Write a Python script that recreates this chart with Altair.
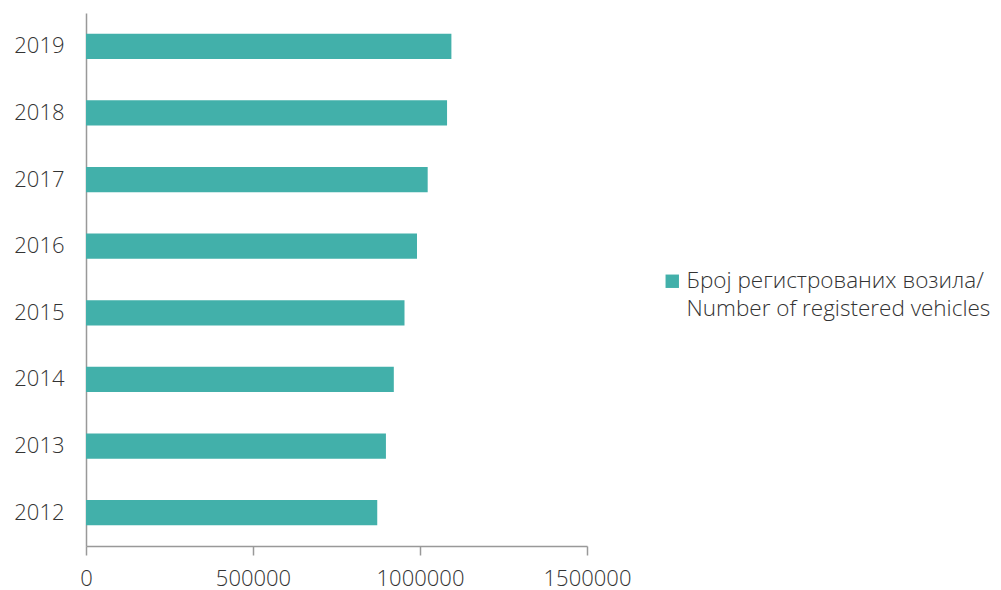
import altair as alt
import pandas as pd

years = ["2012", "2013", "2014", "2015", "2016", "2017", "2018", "2019"]
vehicles = [872000, 898000, 921600, 953600, 991000, 1023000, 1081000, 1094000]
series = "Број регистрованих возила/|Number of registered vehicles"
x_ticks = [0, 500000, 1000000, 1500000]

df = pd.DataFrame({"year": years, "value": vehicles, "series": [series] * len(years)})

FONT = "Open Sans"

chart = alt.Chart(df).mark_bar(color="#42B0AA").encode(
    y=alt.Y("year:N", sort=years[::-1], title=None,
            scale=alt.Scale(paddingInner=0.62, paddingOuter=0.31),
            axis=alt.Axis(ticks=False, domainColor="#999999", domainWidth=1.5,
                          labelPadding=22, labelFontSize=22, labelColor="#333333",
                          labelFont=FONT, labelFontWeight=300)),
    x=alt.X("value:Q", title=None,
            scale=alt.Scale(domain=[0, 1500000], nice=False),
            axis=alt.Axis(values=x_ticks, format="d", grid=False,
                          domainColor="#999999", domainWidth=1.5,
                          tickColor="#999999", tickWidth=1.5, tickSize=9,
                          labelPadding=13, labelFontSize=22, labelColor="#333333",
                          labelFont=FONT, labelFontWeight=300, labelFlush=False)),
    color=alt.Color("series:N", scale=alt.Scale(range=["#42B0AA"]),
                    legend=alt.Legend(title=None, orient="none", legendX=575, legendY=257,
                                      symbolType="square", symbolSize=180,
                                      labelFontSize=22.5, labelFont=FONT, labelFontWeight=300,
                                      labelColor="#333333", labelLimit=400,
                                      labelExpr="split(datum.label, '|')",
                                      labelOffset=3)),
).properties(
    width=501, height=533,
    autosize=alt.AutoSizeParams(type="none"),
    padding={"left": 78, "top": 5, "right": 405, "bottom": 44},
).configure(
    view=alt.ViewConfig(stroke=None),
    style={"guide-label": {"lineHeight": 28}},
)

chart.save("out.html", embed_options={"renderer": "svg", "actions": False})
